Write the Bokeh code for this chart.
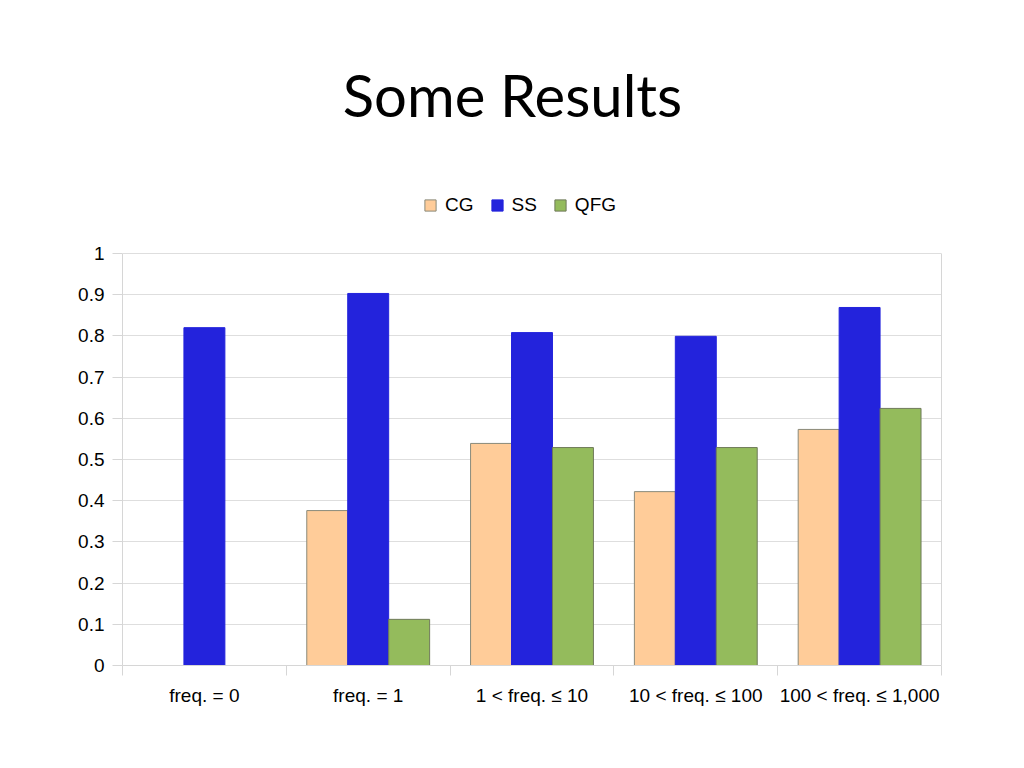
from bokeh.plotting import figure
from bokeh.models import (Range1d, FixedTicker, Label, Legend, LegendItem, LinearAxis,
                          ColumnDataSource, CDSView, BooleanFilter)
from bokeh.transform import dodge
from bokeh.embed import file_html
from bokeh.resources import INLINE

# ---------------- data ----------------
title_text = "Some Results"
categories = ["freq. = 0", "freq. = 1", "1 < freq. \u2264 10",
              "10 < freq. \u2264 100", "100 < freq. \u2264 1,000"]
series_names = ["CG", "SS", "QFG"]
cg = [0.0, 0.376, 0.539, 0.422, 0.573]
ss = [0.820, 0.903, 0.808, 0.799, 0.869]
qfg = [0.0, 0.112, 0.529, 0.529, 0.624]
y_ticks = [0, 0.1, 0.2, 0.3, 0.4, 0.5, 0.6, 0.7, 0.8, 0.9, 1.0]
y_tick_labels = ["0", "0.1", "0.2", "0.3", "0.4", "0.5", "0.6", "0.7", "0.8", "0.9", "1"]

# ---------------- style / layout ----------------
colors = ["#ffcc99", "#2323dc", "#94bb5c"]
outline = ["#8a8a7a", "#2323dc", "#6f7a5a"]
grid_col = "#dedede"
axis_col = "#d6d6d6"
font = "Liberation Sans"
fs = "19px"

# page pixel geometry of the value area (0..1)
val_left, val_right, val_top, val_bottom = 122, 941, 253, 665
frame_top_px = 30
W, H = 1016, 760
left = val_left
right = W - val_right
top = frame_top_px
bottom = H - val_bottom
frame_w = val_right - val_left
unit_px = val_bottom - val_top            # pixels per 1.0
y_end = (val_bottom - frame_top_px) / unit_px

n = len(categories)
centers = [i + 0.5 for i in range(n)]
bounds = list(range(n + 1))

p = figure(width=W, height=H, x_range=Range1d(0, n), y_range=Range1d(0, y_end),
           output_backend="svg", toolbar_location=None, title=None,
           min_border_left=left, min_border_right=right,
           min_border_top=top, min_border_bottom=bottom)
p.background_fill_color = "white"
p.border_fill_color = "white"
p.outline_line_color = None

offsets = [-0.25, 0.0, 0.25]
renderers = []
for name, vals, off, c, lc in zip(series_names, [cg, ss, qfg], offsets, colors, outline):
    src = ColumnDataSource(dict(x=centers, top=vals))
    view = CDSView(filter=BooleanFilter([v > 0 for v in vals]))
    r = p.vbar(x=dodge("x", off, range=p.x_range), top="top", width=0.25,
               source=src, view=view, fill_color=c, line_color=lc, line_width=1)
    renderers.append((name, r))

# x axis
xax = p.xaxis[0]
xax.ticker = FixedTicker(ticks=centers, minor_ticks=bounds)
xax.major_label_overrides = {c: lab for c, lab in zip(centers, categories)}
xax.major_tick_out = 0
xax.major_tick_in = 0
xax.major_tick_line_color = None
xax.minor_tick_out = 10
xax.minor_tick_in = 0
xax.minor_tick_line_color = axis_col
xax.axis_line_color = axis_col
xax.major_label_standoff = 9
xax.major_label_text_font = font
xax.major_label_text_font_size = fs
xax.major_label_text_color = "#000000"

# y axis
yax = p.yaxis[0]
yax.ticker = FixedTicker(ticks=y_ticks)
yax.bounds = (0, 1)
yax.major_label_overrides = {t: lab for t, lab in zip(y_ticks, y_tick_labels)}
yax.major_tick_out = 10
yax.major_tick_in = 0
yax.major_tick_line_color = axis_col
yax.minor_tick_line_color = None
yax.axis_line_color = axis_col
yax.major_label_standoff = 8
yax.major_label_text_font = font
yax.major_label_text_font_size = fs
yax.major_label_text_color = "#000000"

# right border of the value area
rax = LinearAxis(bounds=(0, 1), ticker=FixedTicker(ticks=[]),
                 axis_line_color=axis_col, major_tick_line_color=None,
                 minor_tick_line_color=None, major_label_text_font_size="0px")
p.add_layout(rax, "right")

p.xgrid.visible = False
p.ygrid.ticker = FixedTicker(ticks=y_ticks)
p.ygrid.grid_line_color = grid_col

# title (page coords -> data coords)
title_px, title_baseline = 512, 94
p.add_layout(Label(x=(title_px - val_left) / frame_w * n,
                   y=(val_bottom - title_baseline) / unit_px,
                   text=title_text, text_align="center", text_baseline="alphabetic",
                   text_font="Lato", text_font_size="58px", text_color="#000000"))

legend = Legend(items=[LegendItem(label=nm, renderers=[r]) for nm, r in renderers],
                orientation="horizontal", location=(301, 449),
                padding=0, margin=0, spacing=16,
                glyph_width=14, glyph_height=14, label_standoff=8,
                label_text_font=font, label_text_font_size=fs,
                label_text_color="#000000",
                border_line_color=None, background_fill_alpha=0)
p.add_layout(legend, "center")

open("out.html", "w").write(file_html(p, INLINE))
